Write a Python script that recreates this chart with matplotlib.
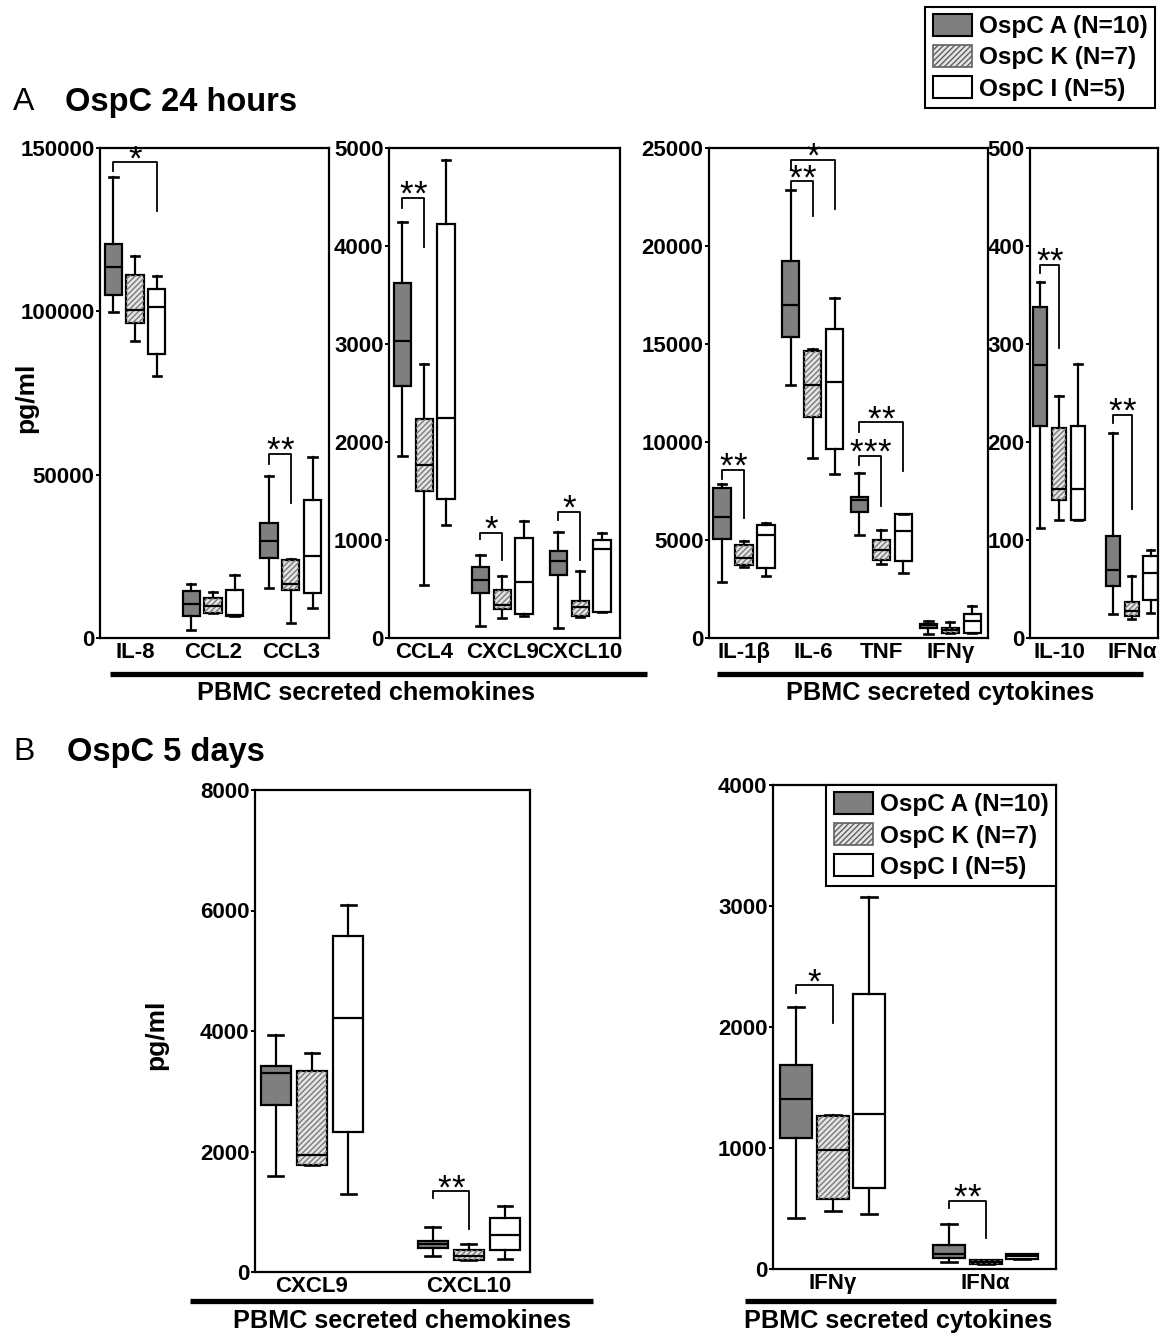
import matplotlib
matplotlib.use('Agg')
import matplotlib.pyplot as plt
from matplotlib.patches import Patch, PathPatch
from matplotlib.lines import Line2D

plt.rcParams['font.family'] = ['Liberation Sans', 'DejaVu Sans']
plt.rcParams['font.weight'] = 'bold'
plt.rcParams['hatch.linewidth'] = 1.0

# ---------------- data (5-number summaries: whisker low, Q1, median, Q3, whisker high) -------------
groups = ['OspC A (N=10)', 'OspC K (N=7)', 'OspC I (N=5)']

# Panel A1: chemokines (24 h)
a1_cats = ['IL-8', 'CCL2', 'CCL3']
a1_A = [[99800, 104900, 113700, 120650, 141200], [2400, 6800, 10400, 14500, 16500], [15400, 24500, 29700, 35200, 49500]]
a1_K = [[90900, 96400, 100500, 111000, 117000], [7700, 7700, 9900, 12100, 14000], [4600, 14800, 16500, 24000, 24200]]
a1_I = [[80200, 86800, 101400, 106900, 110700], [6600, 6600, 6900, 14800, 19200], [9100, 13700, 25000, 42100, 55500]]
a1_sig = [(0, 0, 2, 145600, 142900, 130800, '*'), (2, 0, 1, 56300, 53300, 41400, '**')]
a1_ticks = [0, 50000, 100000, 150000]

# Panel A2: chemokines (24 h)
a2_cats = ['CCL4', 'CXCL9', 'CXCL10']
a2_A = [[1860, 2570, 3030, 3620, 4240], [125, 460, 590, 720, 850], [100, 640, 785, 885, 1080]]
a2_K = [[545, 1500, 1770, 2230, 2800], [200, 300, 340, 490, 630], [210, 225, 320, 375, 680]]
a2_I = [[1150, 1420, 2250, 4220, 4880], [225, 245, 575, 1020, 1190], [265, 265, 905, 1005, 1070]]
a2_sig = [(0, 0, 1, 4490, 4390, 3990, '**'), (1, 0, 1, 1070, 1015, 795, '*'), (2, 0, 1, 1290, 1205, 795, '*')]
a2_ticks = [0, 1000, 2000, 3000, 4000, 5000]

# Panel A3: cytokines (24 h)
a3_cats = ['IL-1β', 'IL-6', 'TNF', 'IFNγ']
a3_A = [[2870, 5070, 6150, 7630, 7850], [12900, 15380, 17000, 19250, 22870], [5240, 6440, 7030, 7170, 8430], [180, 490, 680, 730, 860]]
a3_K = [[3600, 3700, 4100, 4750, 4930], [9180, 11280, 12900, 14640, 14750], [3780, 3960, 4470, 4980, 5530], [240, 270, 400, 510, 820]]
a3_I = [[3140, 3560, 5240, 5790, 5880], [8390, 9640, 13050, 15750, 17340], [3340, 3920, 5470, 6330, 6330], [240, 270, 860, 1240, 1610]]
a3_sig = [(0, 0, 1, 8580, 8120, 6110, '**'), (1, 0, 1, 23300, 22870, 21530, '**'), (1, 0, 2, 24400, 23900, 21900, '*'),
          (2, 0, 1, 9310, 8850, 6750, '***'), (2, 0, 2, 11000, 10530, 8520, '**')]
a3_ticks = [0, 5000, 10000, 15000, 20000, 25000]

# Panel A4: cytokines (24 h)
a4_cats = ['IL-10', 'IFNα']
a4_A = [[112, 216, 279, 338, 363], [25, 53, 69, 104, 209]]
a4_K = [[120, 141, 152, 214, 247], [19, 22, 28, 37, 63]]
a4_I = [[120, 120, 152, 216, 280], [26, 39, 66, 84, 90]]
a4_sig = [(0, 0, 1, 381, 372, 296, '**'), (1, 0, 1, 228, 219, 132, '**')]
a4_ticks = [0, 100, 200, 300, 400, 500]

# Panel B1: chemokines (5 days)
b1_cats = ['CXCL9', 'CXCL10']
b1_A = [[1590, 2770, 3300, 3420, 3940], [270, 400, 460, 520, 750]]
b1_K = [[1770, 1770, 1950, 3330, 3630], [200, 200, 270, 370, 460]]
b1_I = [[1290, 2330, 4210, 5570, 6090], [210, 370, 610, 900, 1100]]
b1_sig = [(1, 0, 1, 1340, 1220, 720, '**')]
b1_ticks = [0, 2000, 4000, 6000, 8000]

# Panel B2: cytokines (5 days)
b2_cats = ['IFNγ', 'IFNα']
b2_A = [[420, 1080, 1405, 1690, 2165], [60, 90, 125, 200, 370]]
b2_K = [[477, 580, 983, 1266, 1275], [45, 45, 60, 74, 74]]
b2_I = [[453, 670, 1281, 2273, 3077], [83, 83, 104, 125, 125]]
b2_sig = [(0, 0, 1, 2345, 2280, 2035, '*'), (1, 0, 1, 566, 506, 253, '**')]
b2_ticks = [0, 1000, 2000, 3000, 4000]

# ---------------- figure ----------------
W, H = 1163, 1334
fig = plt.figure(figsize=(W / 100, H / 100), dpi=100)

FACE = ['#7f7f7f', '#e4e4e4', 'white']
HATCH = [None, '//////', None]
LW = 1.6
STAR_STEP = 10.0  # points between neighbouring asterisks


def px_axes(x0, x1, y0, y1):
    return fig.add_axes([x0 / W, 1 - y1 / H, (x1 - x0) / W, (y1 - y0) / H])


def ftext(x, y, s, **kw):
    fig.text(x / W, 1 - y / H, s, **kw)


def fline(x0, x1, y):
    fig.add_artist(Line2D([x0 / W, x1 / W], [1 - y / H, 1 - y / H], lw=3.8, color='black',
                          transform=fig.transFigure, solid_capstyle='butt'))


def draw_panel(ax, cats, series, sigs, ticks, xlim, off, width):
    for j, data in enumerate(series):
        stats = [dict(whislo=d[0], q1=d[1], med=d[2], q3=d[3], whishi=d[4], fliers=[]) for d in data]
        pos = [i + (j - 1) * off for i in range(len(cats))]
        res = ax.bxp(stats, positions=pos, widths=width, patch_artist=True, showfliers=False,
                     manage_ticks=False,
                     boxprops=dict(facecolor=FACE[j], edgecolor='black', linewidth=LW),
                     medianprops=dict(color='black', linewidth=LW),
                     whiskerprops=dict(color='black', linewidth=LW),
                     capprops=dict(color='black', linewidth=LW + 0.3))
        if HATCH[j]:
            for b in res['boxes']:
                ax.add_patch(PathPatch(b.get_path(), facecolor='none', edgecolor='#7a7a7a',
                                       hatch=HATCH[j], linewidth=0, zorder=2.05))
    for ci, g1, g2, yb, yl, yr, lab in sigs:
        x1 = ci + (g1 - 1) * off
        x2 = ci + (g2 - 1) * off
        ax.plot([x1, x1, x2, x2], [yl, yb, yb, yr], color='black', lw=1.3, clip_on=False)
        n = len(lab)
        for k, ch in enumerate(lab):
            ax.annotate(ch, xy=((x1 + x2) / 2, yb),
                        xytext=((k - (n - 1) / 2) * STAR_STEP, -5.0), textcoords='offset points',
                        ha='center', va='baseline', fontsize=25, fontweight='normal',
                        annotation_clip=False)
    ax.set_xlim(*xlim)
    ax.set_ylim(0, ticks[-1])
    ax.set_xticks(range(len(cats)))
    ax.set_xticklabels(cats)
    ax.set_yticks(ticks)
    ax.set_yticklabels([str(t) for t in ticks])
    ax.tick_params(axis='x', length=0, pad=3, labelsize=16)
    ax.tick_params(axis='y', length=3, width=1.4, pad=1, labelsize=16)
    for s in ax.spines.values():
        s.set_linewidth(LW)


ax1 = px_axes(100, 329, 148, 638)
draw_panel(ax1, a1_cats, [a1_A, a1_K, a1_I], a1_sig, a1_ticks, (-0.45, 2.49), 0.28, 0.22)
ax2 = px_axes(389, 620, 148, 638)
draw_panel(ax2, a2_cats, [a2_A, a2_K, a2_I], a2_sig, a2_ticks, (-0.45, 2.51), 0.28, 0.22)
ax3 = px_axes(709, 988, 148, 638)
draw_panel(ax3, a3_cats, [a3_A, a3_K, a3_I], a3_sig, a3_ticks, (-0.51, 3.55), 0.32, 0.25)
ax4 = px_axes(1030, 1158, 148, 638)
draw_panel(ax4, a4_cats, [a4_A, a4_K, a4_I], a4_sig, a4_ticks, (-0.40, 1.36), 0.26, 0.20)
ax5 = px_axes(255, 530, 790, 1272)
draw_panel(ax5, b1_cats, [b1_A, b1_K, b1_I], b1_sig, b1_ticks, (-0.363, 1.389), 0.23, 0.19)
ax6 = px_axes(773, 1056, 785, 1269)
draw_panel(ax6, b2_cats, [b2_A, b2_K, b2_I], b2_sig, b2_ticks, (-0.39, 1.46), 0.24, 0.21)


def handles():
    return [Patch(facecolor=FACE[0], edgecolor='black', linewidth=1.5),
            Patch(facecolor=FACE[1], edgecolor='#606060', hatch='//////', linewidth=1.2),
            Patch(facecolor=FACE[2], edgecolor='black', linewidth=1.5)]


leg_kw = dict(fontsize=17.5, frameon=True, fancybox=False, edgecolor='black', framealpha=1,
              handlelength=1.6, handleheight=1.0, handletextpad=0.3, labelspacing=0.28,
              borderpad=0.3, borderaxespad=0)
legA = fig.legend(handles(), groups, loc='upper right', bbox_to_anchor=(1155 / W, 1 - 7 / H), **leg_kw)
legA.get_frame().set_linewidth(1.5)
legB = ax6.legend(handles(), groups, loc='upper right', **leg_kw)
legB.get_frame().set_linewidth(1.5)

# titles and labels
ftext(13, 102, 'A', fontsize=23, fontweight='normal', va='center', ha='left')
ftext(65, 102, 'OspC 24 hours', fontsize=23.5, va='center', ha='left')
ftext(13, 752, 'B', fontsize=23, fontweight='normal', va='center', ha='left')
ftext(67, 752, 'OspC 5 days', fontsize=23.5, va='center', ha='left')
ftext(26, 398, 'pg/ml', fontsize=19, rotation=90, va='center', ha='center')
ftext(156, 1035, 'pg/ml', fontsize=19, rotation=90, va='center', ha='center')

fline(110, 647, 674)
fline(717, 1143, 674)
fline(190, 593, 1301)
fline(745, 1056, 1301)
ftext(366, 693, 'PBMC secreted chemokines', fontsize=18.2, va='center', ha='center')
ftext(940, 693, 'PBMC secreted cytokines', fontsize=18.2, va='center', ha='center')
ftext(402, 1321, 'PBMC secreted chemokines', fontsize=18.2, va='center', ha='center')
ftext(898, 1321, 'PBMC secreted cytokines', fontsize=18.2, va='center', ha='center')

fig.savefig('out.png', dpi=100)
